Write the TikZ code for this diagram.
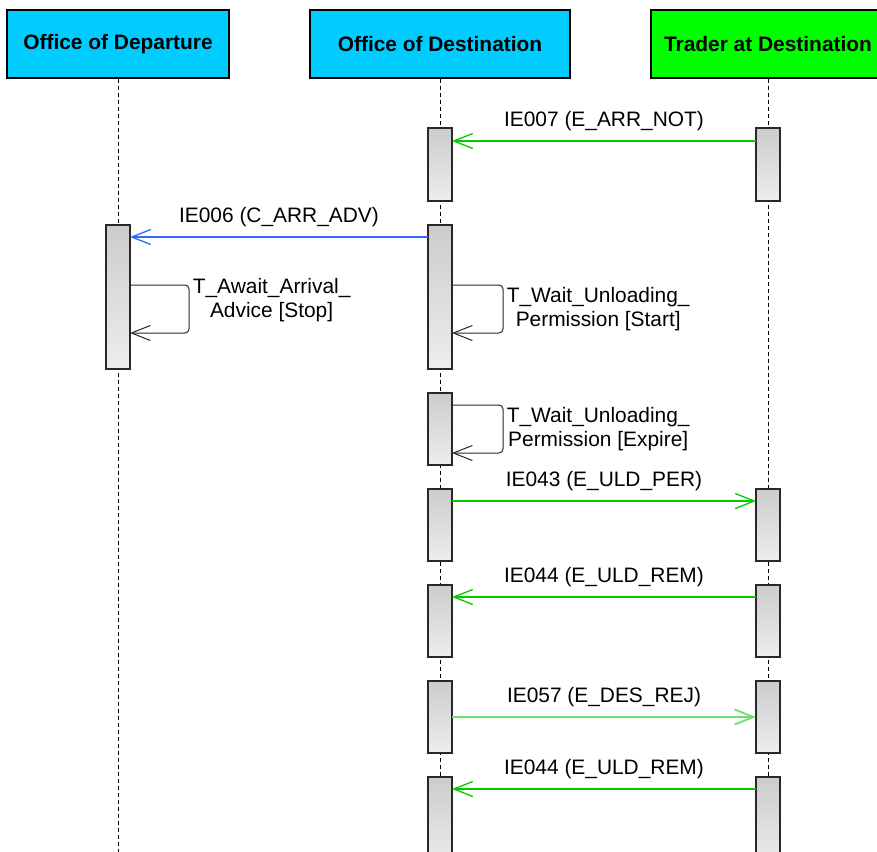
\documentclass[tikz,border=0pt]{standalone}
\usepackage{fontspec}
\setmainfont{Liberation Sans}
\usetikzlibrary{positioning, arrows.meta, calc}
\definecolor{headblue}{RGB}{0,204,255}
\definecolor{headgreen}{RGB}{0,255,0}
\definecolor{msggreen}{RGB}{0,204,0}
\definecolor{msgpale}{RGB}{112,222,112}
\definecolor{msgblue}{RGB}{51,102,255}
\definecolor{barline}{RGB}{40,40,40}
\tikzset{
  lanehead/.style={
    rectangle, draw=black, line width=1.2pt,
    fill=headblue,
    minimum height=68pt, inner sep=0pt,
    font=\fontsize{20.9}{24}\selectfont\bfseries
  },
  lifeline/.style={
    draw=black, line width=1pt, dash pattern=on 4pt off 3pt
  },
  actbar/.style={
    rectangle, draw=barline, line width=1.2pt,
    top color=black!20, bottom color=black!7,
    minimum width=24pt, minimum height=72pt,
    inner sep=0pt, outer sep=0pt, anchor=north
  },
  msg/.style={
    -{Straight Barb[length=19pt, width=15pt]}, line width=1.3pt
  },
  msglabel/.style={midway, above=6pt, text=black},
  selfmsg/.style={
    -{Straight Barb[length=19pt, width=15pt]}, draw=barline,
    line width=1pt, rounded corners=4pt
  },
  selflabel/.style={midway, right=0pt, align=center, text=black}
}

\begin{document}
\begin{tikzpicture}[x=1pt, y=-1pt, node distance=24pt,
  font=\fontsize{20.9}{24}\selectfont]
  \clip (0,0) rectangle (877,851);

  % lanes
  \node[lanehead, minimum width=222pt] (dep) at (118,44) {Office of Departure};
  \node[lanehead, minimum width=260pt] (dest) at (440,44) {Office of Destination};
  \node[lanehead, fill=headgreen, minimum width=234pt] (trd) at (768,44) {Trader at Destination};
  \coordinate (bottom) at (0,870);

  \draw[lifeline] (dep.south) -- (dep.south |- bottom);
  \draw[lifeline] (dest.south) -- (dest.south |- bottom);
  \draw[lifeline] (trd.south) -- (trd.south |- bottom);

  % activations
  \node[actbar, minimum height=73pt] (d1) at (dest.south |- 0,128) {};
  \node[actbar, minimum height=144pt, below=of d1] (d2) {};
  \node[actbar, below=of d2] (d3) {};
  \node[actbar, below=of d3] (d4) {};
  \node[actbar, below=of d4] (d5) {};
  \node[actbar, below=of d5] (d6) {};
  \node[actbar, minimum height=90pt, below=of d6] (d7) {};

  \node[actbar, minimum height=73pt] (t1) at (d1.north -| trd.south) {};
  \node[actbar] (t4) at (d4.north -| trd.south) {};
  \node[actbar] (t5) at (d5.north -| trd.south) {};
  \node[actbar] (t6) at (d6.north -| trd.south) {};
  \node[actbar, minimum height=90pt] (t7) at (d7.north -| trd.south) {};

  \node[actbar, minimum height=144pt] (p2) at (d2.north -| dep.south) {};

  % messages
  \draw[msg, draw=msggreen] ([yshift=-13pt]t1.north west) -- ([yshift=-13pt]d1.north east)
    node[msglabel] {IE007 (E\_ARR\_NOT)};
  \draw[msg, draw=msgblue] ([yshift=-12pt]d2.north west) -- ([yshift=-12pt]p2.north east)
    node[msglabel] {IE006 (C\_ARR\_ADV)};
  \draw[msg, draw=msggreen] ([yshift=-12pt]d4.north east) -- ([yshift=-12pt]t4.north west)
    node[msglabel] {IE043 (E\_ULD\_PER)};
  \draw[msg, draw=msggreen] ([yshift=-12pt]t5.north west) -- ([yshift=-12pt]d5.north east)
    node[msglabel] {IE044 (E\_ULD\_REM)};
  \draw[msg, draw=msgpale, line width=1.8pt] ([yshift=-36pt]d6.north east) -- ([yshift=-36pt]t6.north west)
    node[msglabel] {IE057 (E\_DES\_REJ)};
  \draw[msg, draw=msggreen] ([yshift=-12pt]t7.north west) -- ([yshift=-12pt]d7.north east)
    node[msglabel] {IE044 (E\_ULD\_REM)};

  % timers
  \draw[selfmsg] ([yshift=-60pt]p2.north east) -- ++(59,0) -- ++(0,48)
    node[selflabel, yshift=9pt] {T\_Await\_Arrival\_\\Advice [Stop]}
    -- ([yshift=-108pt]p2.north east);
  \draw[selfmsg] ([yshift=-60pt]d2.north east) -- ++(51,0) -- ++(0,48)
    node[selflabel] {T\_Wait\_Unloading\_\\Permission [Start]}
    -- ([yshift=-108pt]d2.north east);
  \draw[selfmsg] ([yshift=-12pt]d3.north east) -- ++(51,0) -- ++(0,48)
    node[selflabel] {T\_Wait\_Unloading\_\\Permission [Expire]}
    -- ([yshift=-60pt]d3.north east);
\end{tikzpicture}
\end{document}
